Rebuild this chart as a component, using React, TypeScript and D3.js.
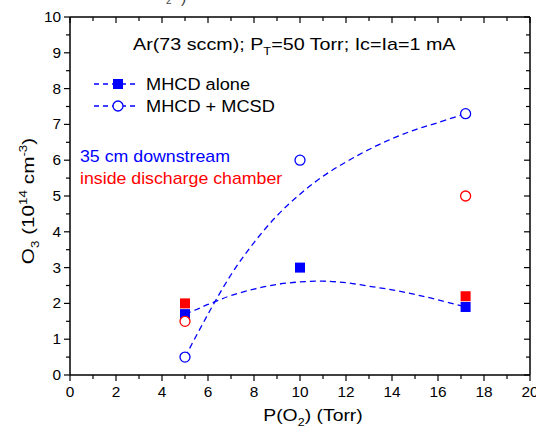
import React from "react";
import * as d3 from "d3";

// ---- data ----
const pO2 = [5, 10, 17.2];
const aloneDown = [1.7, 3.0, 1.9]; // MHCD alone, 35 cm downstream (blue squares)
const mcsdDown = [0.5, 6.0, 7.3]; // MHCD + MCSD, 35 cm downstream (blue circles)
const pO2Inside = [5, 17.2];
const aloneInside = [2.0, 2.2]; // red squares
const mcsdInside = [1.5, 5.0]; // red circles

// fitted guide curves
const fitAloneX = [5, 5.5, 6, 6.5, 7, 8, 9, 10, 11, 12, 13, 14, 15, 16, 17.2];
const fitAloneY = [1.7, 1.83, 1.97, 2.1, 2.22, 2.4, 2.53, 2.6, 2.62, 2.58, 2.48, 2.38, 2.25, 2.1, 1.9];
const fitMcsdX = [5, 6, 7, 8, 9, 10, 11, 12, 13, 14, 15, 16, 17.2];
const fitMcsdY = [0.5, 1.7, 2.8, 3.7, 4.45, 5.05, 5.55, 5.95, 6.3, 6.6, 6.85, 7.05, 7.3];

const xMajor = [0, 2, 4, 6, 8, 10, 12, 14, 16, 18, 20];
const yMajor = [0, 1, 2, 3, 4, 5, 6, 7, 8, 9, 10];

const BLUE = "#0000ff";
const RED = "#ff0000";
const FONT = "Liberation Sans, Arial, sans-serif";

function T({ x, y, sx = 1, rot = 0, anchor = "start", size, fill = "#000", children }: any) {
  return (
    <g transform={`translate(${x},${y}) rotate(${rot}) scale(${sx},1)`}>
      <text x={0} y={0} fontSize={size} fill={fill} textAnchor={anchor}>
        {children}
      </text>
    </g>
  );
}

export default function App() {
  const W = 536, H = 435;
  const x = d3.scaleLinear().domain([0, 20]).range([70, 530]);
  const y = d3.scaleLinear().domain([0, 10]).range([375, 17]);
  const xMinor = d3.range(1, 20, 2);
  const yMinor = d3.range(0.5, 10, 1);

  const line = d3
    .line<[number, number]>()
    .x((d) => x(d[0]))
    .y((d) => y(d[1]))
    .curve(d3.curveCatmullRom);

  const fitAlone = fitAloneX.map((v, i) => [v, fitAloneY[i]] as [number, number]);
  const fitMcsd = fitMcsdX.map((v, i) => [v, fitMcsdY[i]] as [number, number]);

  const [x0, x1] = x.range();
  const [y0, y1] = y.range();
  const sq = 10;
  const r = 5;

  return (
    <svg
      width={W}
      height={H}
      style={{ position: "absolute", left: 0, top: 0, background: "#fff" }}
      fontFamily={FONT}
    >
      <rect x={0} y={0} width={W} height={H} fill="#fff" />
      {/* cropped fragment at the top */}
      <text x={166} y={4} fontSize={10} fill="#444">2</text>
      <text x={181} y={3} fontSize={16} fill="#444">)</text>

      {/* fit curves */}
      <path d={line(fitAlone) || ""} fill="none" stroke={BLUE} strokeWidth={1.3} strokeDasharray="6,4" />
      <path d={line(fitMcsd) || ""} fill="none" stroke={BLUE} strokeWidth={1.3} strokeDasharray="6,4" />

      {/* axes frame */}
      <g stroke="#000" strokeWidth={1.5}>
        <line x1={x0} x2={x1} y1={y0} y2={y0} />
        <line x1={x0} x2={x1} y1={y1} y2={y1} />
        <line x1={x0} x2={x0} y1={y0} y2={y1} />
        <line x1={x1} x2={x1} y1={y0} y2={y1} />
      </g>
      <g stroke="#000" strokeWidth={1.2}>
        {xMajor.map((v) => (
          <g key={"xm" + v}>
            <line x1={x(v)} x2={x(v)} y1={y0} y2={y0 + 6} />
            <line x1={x(v)} x2={x(v)} y1={y1} y2={y1 + 6} />
          </g>
        ))}
        {xMinor.map((v) => (
          <g key={"xn" + v}>
            <line x1={x(v)} x2={x(v)} y1={y0} y2={y0 + 4} />
            <line x1={x(v)} x2={x(v)} y1={y1} y2={y1 + 4} />
          </g>
        ))}
        {yMajor.map((v) => (
          <g key={"ym" + v}>
            <line x1={x0 - 6} x2={x0} y1={y(v)} y2={y(v)} />
            <line x1={x1 - 6} x2={x1} y1={y(v)} y2={y(v)} />
          </g>
        ))}
        {yMinor.map((v) => (
          <g key={"yn" + v}>
            <line x1={x0 - 4} x2={x0} y1={y(v)} y2={y(v)} />
            <line x1={x1 - 4} x2={x1} y1={y(v)} y2={y(v)} />
          </g>
        ))}
      </g>
      {xMajor.map((v) => (
        <T key={"xl" + v} x={x(v)} y={y0 + 22} sx={1.1} size={14} anchor="middle">{v}</T>
      ))}
      {yMajor.map((v) => (
        <T key={"yl" + v} x={x0 - 9} y={y(v) + 5} sx={1.1} size={14} anchor="end">{v}</T>
      ))}

      {/* axis titles */}
      <T x={313} y={421} sx={1.14} size={17} anchor="middle">
        P(O<tspan fontSize={11} dy={5}>2</tspan><tspan dy={-5}>) (Torr)</tspan>
      </T>
      <T x={34} y={201} rot={-90} sx={1.22} size={17} anchor="middle">
        O<tspan fontSize={11} dy={5}>3</tspan>
        <tspan dy={-5}> (10</tspan>
        <tspan fontSize={11} dy={-7}>14</tspan>
        <tspan dy={7}> cm</tspan>
        <tspan fontSize={11} dy={-7}>-3</tspan>
        <tspan dy={7}>)</tspan>
      </T>

      {/* title */}
      <T x={133} y={50} sx={1.16} size={17}>
        Ar(73 sccm); P<tspan fontSize={11} dy={5}>T</tspan>
        <tspan dy={-5}>=50 Torr; Ic=Ia=1 mA</tspan>
      </T>

      {/* legend */}
      <g>
        <line x1={94} x2={137} y1={84} y2={84} stroke={BLUE} strokeWidth={1.3} strokeDasharray="5,4" />
        <rect x={118 - sq / 2} y={84 - sq / 2} width={sq} height={sq} fill={BLUE} />
        <T x={146} y={90} sx={1.07} size={17}>MHCD alone</T>
        <line x1={94} x2={137} y1={106} y2={106} stroke={BLUE} strokeWidth={1.3} strokeDasharray="5,4" />
        <circle cx={118} cy={106} r={r} fill="#fff" stroke={BLUE} strokeWidth={1.3} />
        <T x={146} y={112} sx={1.07} size={17}>MHCD + MCSD</T>
      </g>

      <T x={80} y={162} sx={1.11} size={16} fill={BLUE}>35 cm downstream</T>
      <T x={80} y={184} sx={1.11} size={16} fill={RED}>inside discharge chamber</T>

      {/* markers */}
      {pO2.map((v, i) => (
        <rect key={"bs" + i} x={x(v) - sq / 2} y={y(aloneDown[i]) - sq / 2} width={sq} height={sq} fill={BLUE} />
      ))}
      {pO2Inside.map((v, i) => (
        <rect key={"rs" + i} x={x(v) - sq / 2} y={y(aloneInside[i]) - sq / 2} width={sq} height={sq} fill={RED} />
      ))}
      {pO2.map((v, i) => (
        <circle key={"bc" + i} cx={x(v)} cy={y(mcsdDown[i])} r={r} fill="#fff" stroke={BLUE} strokeWidth={1.3} />
      ))}
      {pO2Inside.map((v, i) => (
        <circle key={"rc" + i} cx={x(v)} cy={y(mcsdInside[i])} r={r} fill="#fff" stroke={RED} strokeWidth={1.3} />
      ))}
    </svg>
  );
}
